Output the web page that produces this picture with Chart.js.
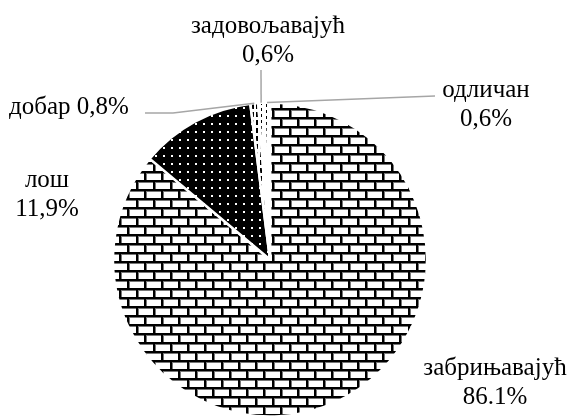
<!DOCTYPE html>
<html>
<head>
<meta charset="utf-8">
<script src="https://cdn.jsdelivr.net/npm/chart.js@4.4.1/dist/chart.umd.min.js"></script>
<style>
    html, body { margin: 0; padding: 0; background: #fff; }
    #wrap { width: 576px; height: 416px; position: relative; }
</style>
</head>
<body>
<div id="wrap"><canvas id="chart" width="576" height="416"></canvas></div>
<script>
// data, clockwise from 12 o'clock
let categories = ['забрињавајућ', 'лош', 'добар', 'задовољавајућ', 'одличан'];
let shares = [86.1, 11.9, 0.8, 0.6, 0.6];
let shareText = ['86.1%', '11,9%', '0,8%', '0,6%', '0,6%'];

// where each label sits (text x, first baseline y); leader = points from label to slice
let labelLayout = [
    { x: 495, y: 375, lines: 2, align: 'center', leader: null },
    { x: 47, y: 187, lines: 2, align: 'center', leader: null },
    { x: 9, y: 114, lines: 1, align: 'left', leader: [[145, 113], [173, 113]] },
    { x: 268, y: 33, lines: 2, align: 'center', leader: [[261, 70]] },
    { x: 486, y: 97, lines: 2, align: 'center', leader: [[435, 96]] }
];

function makePattern(w, h, draw) {
    let c = document.createElement('canvas');
    c.width = w;
    c.height = h;
    let g = c.getContext('2d');
    draw(g);
    return g.createPattern(c, 'repeat');
}

// bricks: white bricks, black mortar
let bricks = makePattern(17, 18, function(g) {
    g.fillStyle = '#fff';
    g.fillRect(0, 0, 17, 18);
    g.fillStyle = '#777';
    g.fillRect(0, 2, 17, 1);
    g.fillRect(0, 11, 17, 1);
    g.fillRect(2, 0, 1, 9);
    g.fillRect(10, 9, 1, 9);
    g.fillStyle = '#000';
    g.fillRect(0, 0, 17, 2);
    g.fillRect(0, 9, 17, 2);
    g.fillRect(0, 0, 2, 9);
    g.fillRect(8, 9, 2, 9);
});

// black with small white dots
let dots = makePattern(8, 8, function(g) {
    g.fillStyle = '#000';
    g.fillRect(0, 0, 8, 8);
    g.fillStyle = '#fff';
    g.fillRect(3, 3, 2, 2);
});

let dashA = makePattern(4, 8, function(g) {
    g.fillStyle = '#fff';
    g.fillRect(0, 0, 4, 8);
    g.fillStyle = '#000';
    g.fillRect(0, 0, 2, 5);
});

let dashB = makePattern(5, 6, function(g) {
    g.fillStyle = '#fff';
    g.fillRect(0, 0, 5, 6);
    g.fillStyle = '#000';
    g.fillRect(1, 0, 1, 3);
});

let dashC = makePattern(4, 6, function(g) {
    g.fillStyle = '#fff';
    g.fillRect(0, 0, 4, 6);
    g.fillStyle = '#000';
    g.fillRect(2, 2, 1, 3);
});

let fills = [bricks, dots, dashA, dashB, dashC];

const FONT = '25px "Liberation Serif", "Times New Roman", serif';
const LINE_H = 29;

let pieLabels = {
    id: 'pieLabels',
    afterDatasetsDraw: function(chart) {
        let ctx = chart.ctx;
        let arcs = chart.getDatasetMeta(0).data;
        ctx.save();

        // leader lines
        ctx.strokeStyle = '#a6a6a6';
        ctx.lineWidth = 1.5;
        for (let i = 0; i < arcs.length; i++) {
            let lay = labelLayout[i];
            if (!lay.leader) {
                continue;
            }
            let arc = arcs[i];
            let mid = (arc.startAngle + arc.endAngle) / 2;
            let ex = arc.x + Math.cos(mid) * arc.outerRadius;
            let ey = arc.y + Math.sin(mid) * arc.outerRadius;
            ctx.beginPath();
            ctx.moveTo(lay.leader[0][0], lay.leader[0][1]);
            for (let p = 1; p < lay.leader.length; p++) {
                ctx.lineTo(lay.leader[p][0], lay.leader[p][1]);
            }
            ctx.lineTo(ex, ey);
            ctx.stroke();
        }

        // text
        ctx.fillStyle = '#000';
        ctx.font = FONT;
        ctx.textBaseline = 'alphabetic';
        for (let i = 0; i < categories.length; i++) {
            let lay = labelLayout[i];
            ctx.textAlign = lay.align;
            if (lay.lines === 2) {
                ctx.fillText(categories[i], lay.x, lay.y);
                ctx.fillText(shareText[i], lay.x, lay.y + LINE_H);
            } else {
                ctx.fillText(categories[i] + ' ' + shareText[i], lay.x, lay.y);
            }
        }
        ctx.restore();
    }
};

new Chart(document.getElementById('chart').getContext('2d'), {
    type: 'pie',
    data: {
        labels: categories,
        datasets: [{
            data: shares,
            backgroundColor: fills,
            borderColor: '#fff',
            borderWidth: 2.5,
            radius: 157
        }]
    },
    options: {
        responsive: false,
        animation: false,
        layout: { padding: { left: 0, right: 36, top: 103, bottom: 0 } },
        plugins: {
            legend: { display: false },
            tooltip: { enabled: false }
        }
    },
    plugins: [pieLabels]
});
</script>
</body>
</html>
